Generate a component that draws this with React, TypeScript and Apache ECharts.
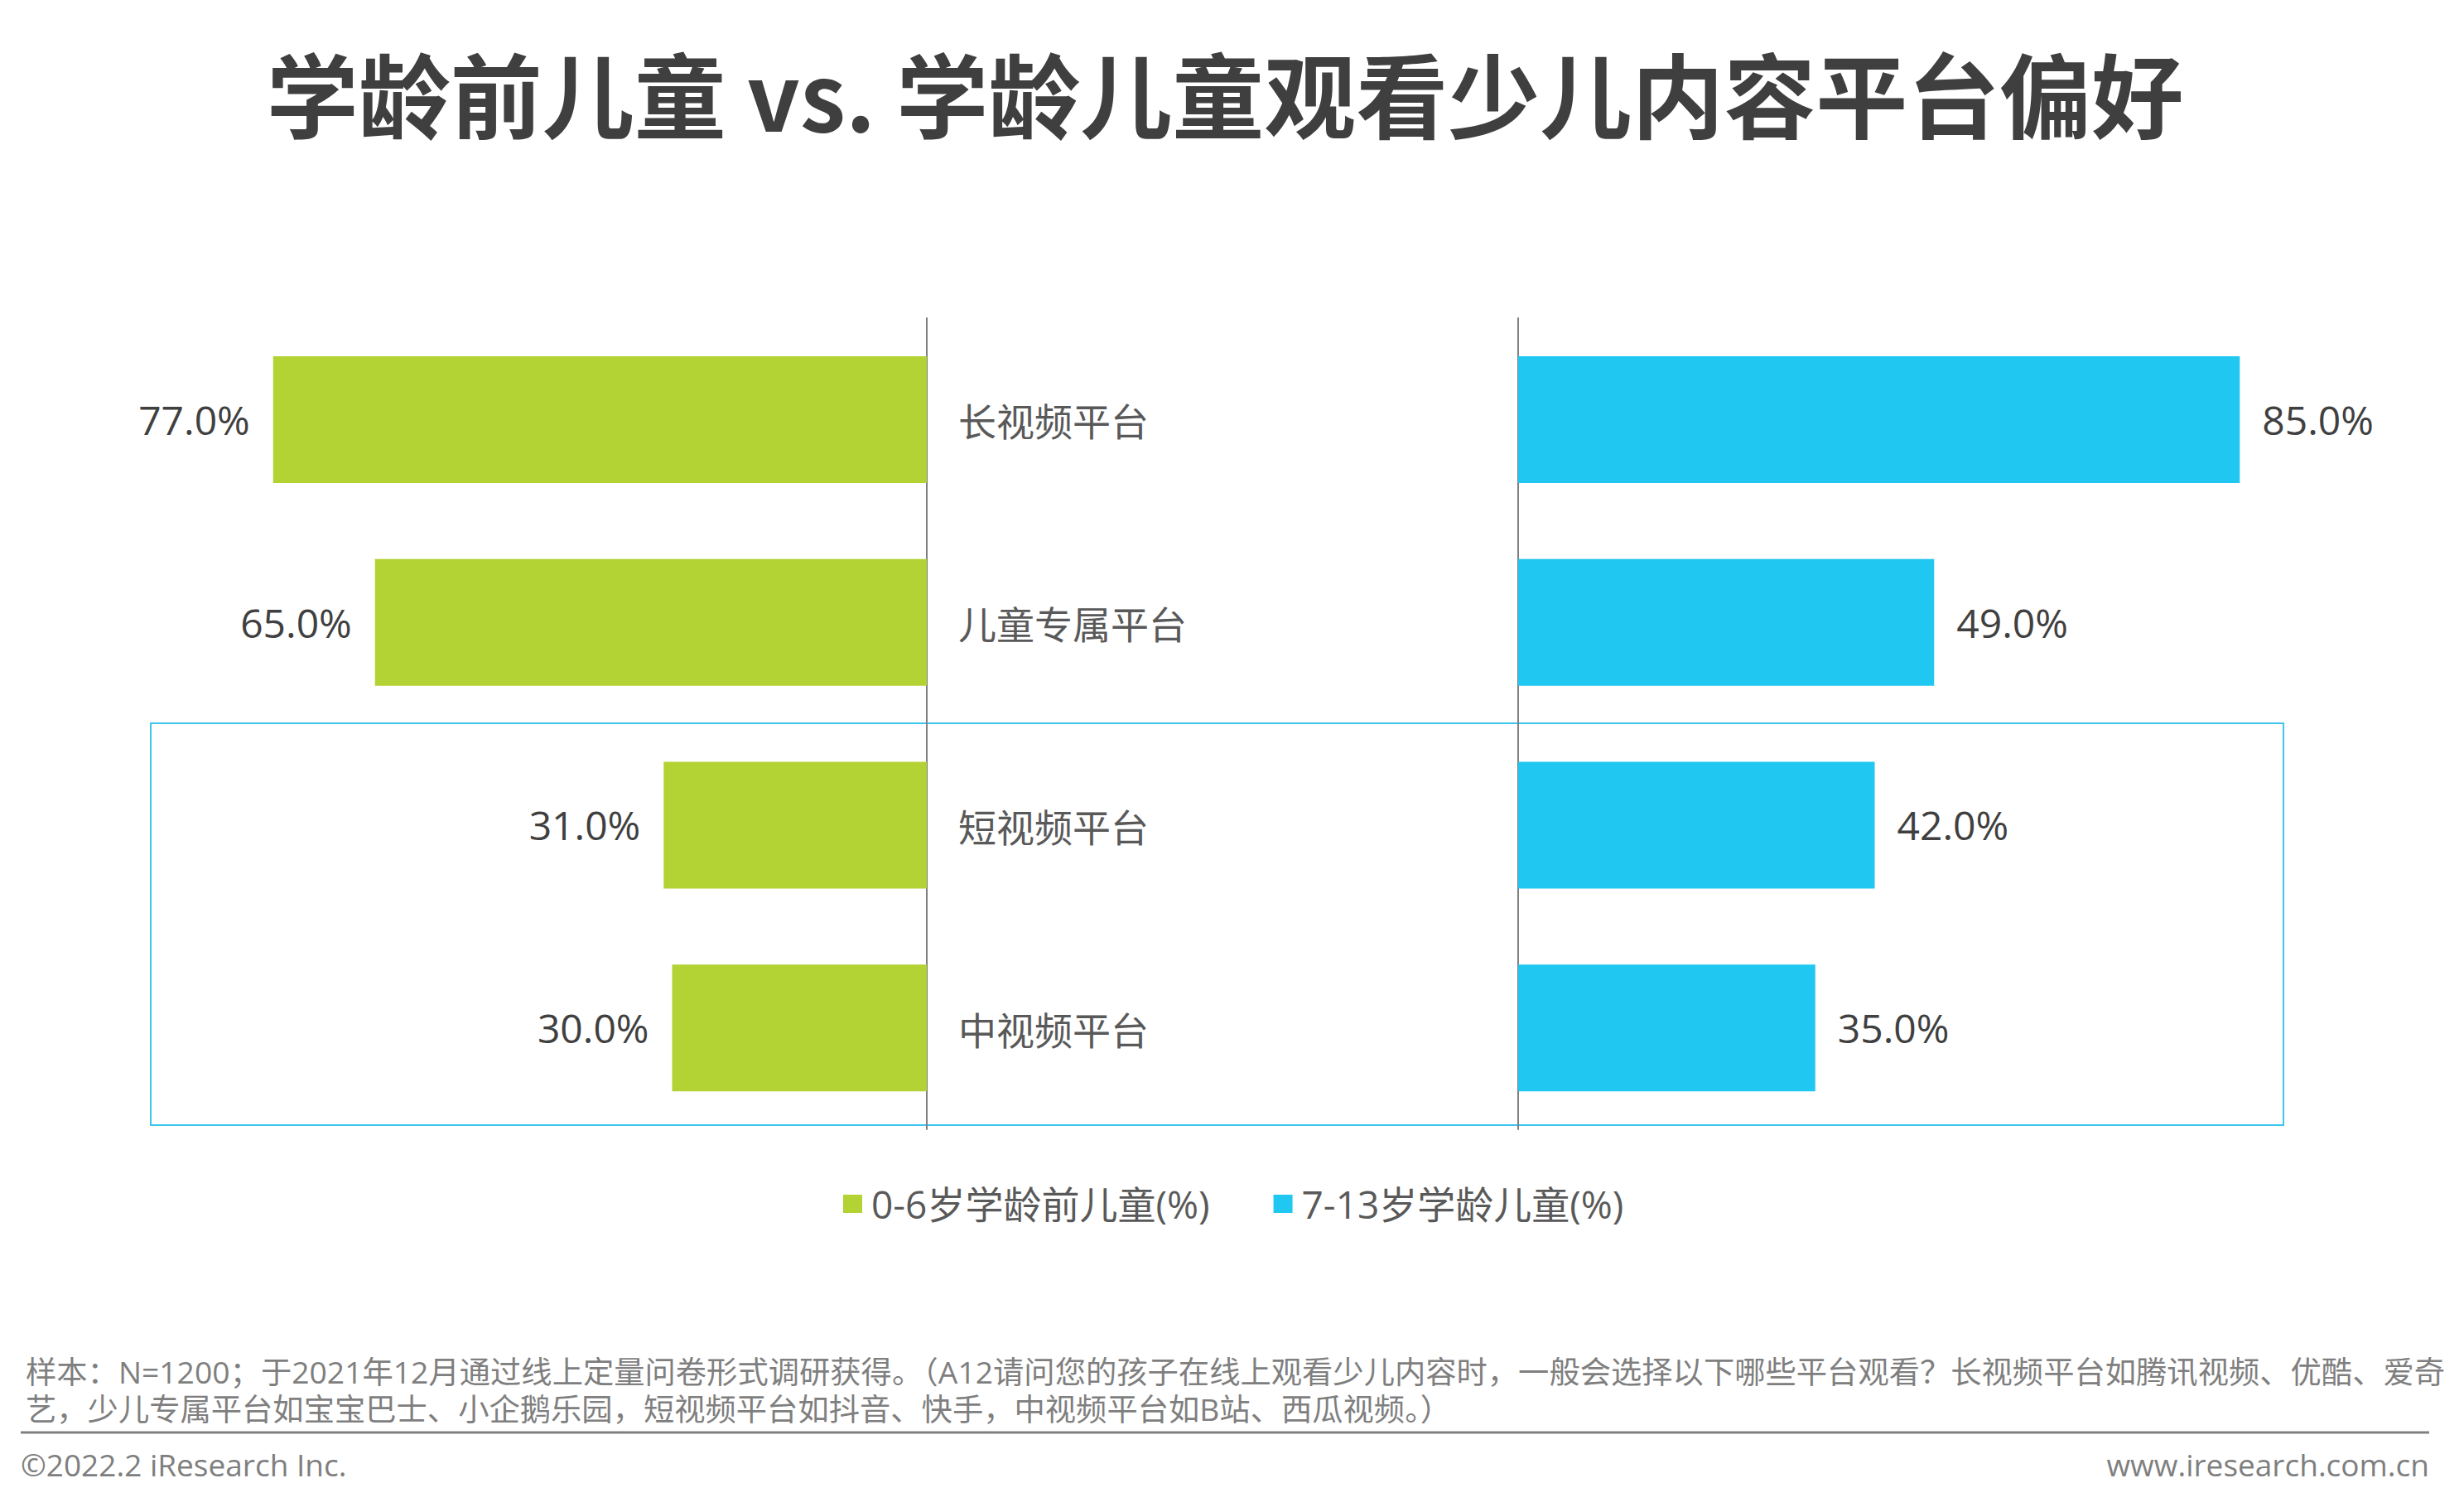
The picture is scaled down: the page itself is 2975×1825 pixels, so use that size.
import React, { useEffect, useRef } from "react";
import * as echarts from "echarts";

const titleText = "学龄前儿童 vs. 学龄儿童观看少儿内容平台偏好";
const categories = ["长视频平台", "儿童专属平台", "短视频平台", "中视频平台"];
const preschool = [77, 65, 31, 30];
const schoolAge = [85, 49, 42, 35];
const seriesNames = ["0-6岁学龄前儿童(%)", "7-13岁学龄儿童(%)"];
const noteLine1 =
  "样本：N=1200；于2021年12月通过线上定量问卷形式调研获得。（A12请问您的孩子在线上观看少儿内容时，一般会选择以下哪些平台观看？长视频平台如腾讯视频、优酷、爱奇";
const noteLine2 =
  "艺，少儿专属平台如宝宝巴士、小企鹅乐园，短视频平台如抖音、快手，中视频平台如B站、西瓜视频。）";
const copyright = "©2022.2 iResearch Inc.";
const website = "www.iresearch.com.cn";

const GREEN = "#b3d334";
const CYAN = "#20c7f0";
const CJK = "Noto Sans CJK SC";
const MIX = "'Open Sans', 'Noto Sans CJK SC'";

export default function App() {
  const ref = useRef<HTMLDivElement>(null);
  useEffect(() => {
    if (!ref.current) return;
    const chart = echarts.init(ref.current, null, { renderer: "svg" });
    const fmt = (p: any) => Number(p.value).toFixed(1) + "%";
    const axisLine = { show: true, onZero: false, lineStyle: { color: "#7f7f7f", width: 2 } };
    chart.setOption({
      animation: false,
      backgroundColor: "#ffffff",
      grid: [
        { left: 94, width: 1025, top: 384, height: 979 },
        { left: 1833, width: 1025, top: 384, height: 979 },
      ],
      xAxis: [
        { gridIndex: 0, type: "value", min: 0, max: 100, inverse: true, show: false },
        { gridIndex: 1, type: "value", min: 0, max: 100, show: false },
      ],
      yAxis: [
        {
          gridIndex: 0,
          type: "category",
          data: categories,
          inverse: true,
          position: "right",
          axisLine,
          axisTick: { show: false },
          splitLine: { show: false },
          axisLabel: { show: true, margin: 38, fontSize: 46, color: "#595959", fontFamily: CJK },
        },
        {
          gridIndex: 1,
          type: "category",
          data: categories,
          inverse: true,
          position: "left",
          axisLine,
          axisTick: { show: false },
          splitLine: { show: false },
          axisLabel: { show: false },
        },
      ],
      legend: {
        left: 1013,
        top: 1425,
        itemWidth: 23,
        itemHeight: 22,
        itemGap: 77,
        icon: "rect",
        data: seriesNames,
        textStyle: { fontSize: 46, color: "#595959", fontFamily: MIX, padding: [0, 0, 0, 6] },
      },
      series: [
        {
          name: seriesNames[0],
          type: "bar",
          xAxisIndex: 0,
          yAxisIndex: 0,
          data: preschool,
          barWidth: 153,
          itemStyle: { color: GREEN },
          label: {
            show: true,
            position: "left",
            distance: 28,
            formatter: fmt,
            fontSize: 48,
            color: "#404040",
            fontFamily: MIX,
          },
        },
        {
          name: seriesNames[1],
          type: "bar",
          xAxisIndex: 1,
          yAxisIndex: 1,
          data: schoolAge,
          barWidth: 153,
          itemStyle: { color: CYAN },
          label: {
            show: true,
            position: "right",
            distance: 27,
            formatter: fmt,
            fontSize: 48,
            color: "#404040",
            fontFamily: MIX,
          },
        },
      ],
      graphic: [
        {
          type: "text",
          x: 1479,
          y: 110,
          style: {
            text: titleText,
            fontSize: 111,
            fontWeight: "bold",
            fill: "#3f3f3f",
            fontFamily: CJK,
            textAlign: "center",
            textVerticalAlign: "middle",
          },
        },
        {
          type: "rect",
          shape: { x: 182, y: 873, width: 2575, height: 485 },
          style: { fill: "none", stroke: "#3ec5ee", lineWidth: 2 },
          z: 0,
        },
        {
          type: "text",
          x: 31,
          y: 1678,
          style: {
            text: noteLine1 + "\n" + noteLine2,
            fontSize: 37.3,
            lineHeight: 45,
            fill: "#7f7f7f",
            fontFamily: MIX,
            textVerticalAlign: "middle",
          },
        },
        {
          type: "line",
          shape: { x1: 25, y1: 1729, x2: 2933, y2: 1729 },
          style: { stroke: "#808080", lineWidth: 3 },
        },
        {
          type: "text",
          x: 25,
          y: 1767,
          style: { text: copyright, fontSize: 37, fill: "#7f7f7f", fontFamily: MIX, textVerticalAlign: "middle" },
        },
        {
          type: "text",
          x: 2933,
          y: 1767,
          style: {
            text: website,
            fontSize: 37,
            fill: "#7f7f7f",
            fontFamily: MIX,
            textAlign: "right",
            textVerticalAlign: "middle",
          },
        },
      ],
    });
    return () => chart.dispose();
  }, []);
  return (
    <div
      ref={ref}
      style={{ position: "fixed", left: 0, top: 0, width: 2975, height: 1825, background: "#fff" }}
    />
  );
}
